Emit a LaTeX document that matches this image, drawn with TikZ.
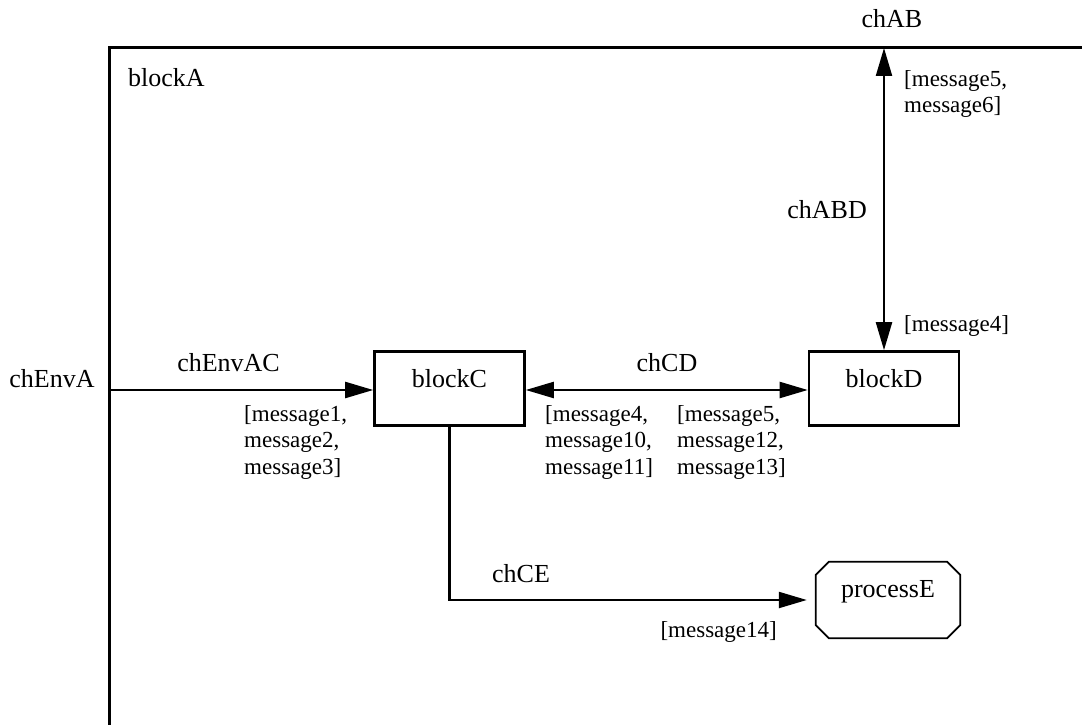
\documentclass[tikz,border=0pt]{standalone}
\usepackage{fontspec}
\setmainfont{Liberation Serif}
\usetikzlibrary{arrows.meta}
\begin{document}
\begin{tikzpicture}[x=1pt,y=-1pt,
  namefont/.style={font=\fontsize{26}{30}\selectfont},
  msgfont/.style={font=\fontsize{23}{26.5}\selectfont, align=left, inner sep=0pt},
  lbl/.style={namefont, inner sep=0pt},
  blockbox/.style={draw, line width=2.6pt, minimum width=150pt, minimum height=74pt, inner sep=0pt,
    namefont, text height=18pt, text depth=21pt},
  procbox/.style={minimum width=144pt, minimum height=76pt, inner sep=0pt,
    namefont, text height=18pt, text depth=24pt},
  octline/.style={line width=1.8pt, line join=miter},
  frame/.style={line width=3pt},
  conn/.style={line width=2.2pt},
  tip/.style={-{Triangle[length=28pt,width=16pt]}},
  tips/.style={{Triangle[length=28pt,width=16pt]}-{Triangle[length=28pt,width=16pt]}}
]
\useasboundingbox (0,0) rectangle (1082,725);

% frame of blockA
\coordinate (fTL) at (109,48);
\coordinate (fTR) at (1082,48);
\coordinate (fBL) at (109,725);
\draw[frame] (fTR) -- (fTL) -- (fBL);

\node[lbl, anchor=base west] (lblA) at (128,87) {blockA};
\node[lbl, anchor=base] (lblAB) at (892,28) {chAB};

% blocks
\node[blockbox] (blockC) at (449.5,388.5) {blockC};
\node[blockbox] (blockD) at (884,388.5) {blockD};
\node[procbox] (processE) at (888,600) {processE};
\draw[octline]
  ([xshift=13pt]processE.north west) -- ([xshift=-13pt]processE.north east)
  -- ([yshift=-13pt]processE.north east) -- ([yshift=13pt]processE.south east)
  -- ([xshift=-13pt]processE.south east) -- ([xshift=13pt]processE.south west)
  -- ([yshift=13pt]processE.south west) -- ([yshift=-13pt]processE.north west) -- cycle;

% channels
\coordinate (envA) at (109,390);
\coordinate (abTop) at (884,48);
\draw[conn, tip] (envA) -- (envA -| blockC.west);
\draw[conn, tips] (blockC.east |- 0,390) -- (blockD.west |- 0,390);
\draw[conn, tips] (blockD.north) -- (abTop);
\draw[conn, tip, shorten >=9pt] (blockC.south) |- (processE.west);

% channel labels
\node[lbl, anchor=base] (lblEnvA) at (52,387) {chEnvA};
\node[lbl, anchor=base east] (lblEnvAC) at (280,371) {chEnvAC};
\node[lbl, anchor=base] (lblCD) at (667,371) {chCD};
\node[lbl, anchor=base east] (lblABD) at (867,218) {chABD};
\node[lbl, anchor=base] (lblCE) at (521,582) {chCE};

% message lists
\node[msgfont, anchor=north west] (m56) at (904,70) {[message5,\\message6]};
\node[msgfont, anchor=north west] (m4) at (904,315) {[message4]};
\node[msgfont, anchor=north west] (m123) at (244,405) {[message1,\\message2,\\message3]};
\node[msgfont, anchor=north west] (m41011) at (545,405) {[message4,\\message10,\\message11]};
\node[msgfont, anchor=north west] (m51213) at (677,405) {[message5,\\message12,\\message13]};
\node[msgfont, anchor=north east] (m14) at (777,621) {[message14]};
\end{tikzpicture}
\end{document}
